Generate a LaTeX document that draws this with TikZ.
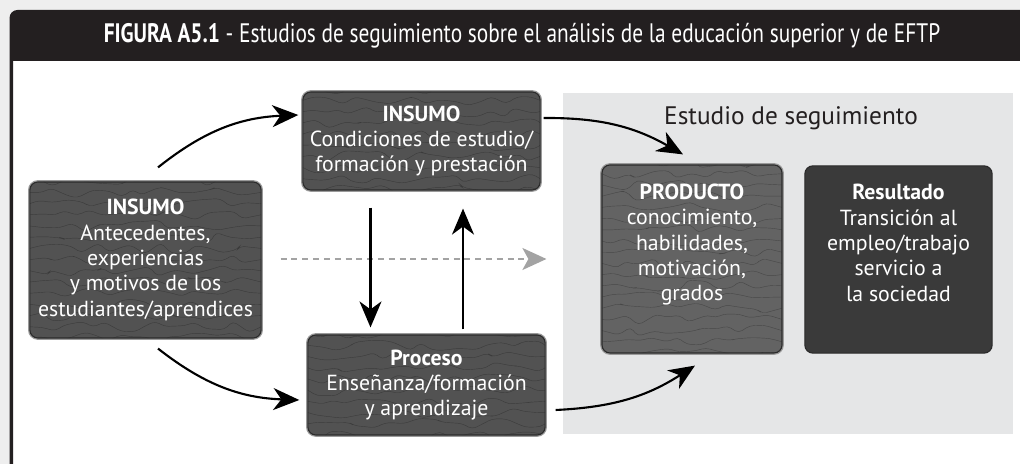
\documentclass[tikz,border=0pt]{standalone}
\usepackage{fontspec}
\setmainfont{PT Sans}
\newfontfamily\titlefont[FakeStretch=0.8]{PT Sans}
\usetikzlibrary{arrows.meta, calc, decorations.pathmorphing}
\definecolor{pagebg}{HTML}{EEEEEE}
\definecolor{headdark}{HTML}{231F20}
\definecolor{panelgray}{HTML}{E5E6E7}
\definecolor{boxgray}{HTML}{525252}
\definecolor{resgray}{HTML}{3A3A3A}
\definecolor{edgegray}{HTML}{2B2B2B}
\definecolor{ringgray}{HTML}{9A9A9A}
\definecolor{dashgray}{HTML}{A3A3A3}

\begin{document}
\begin{tikzpicture}[x=0.025cm, y=0.025cm,
  topoline/.style={draw=black, line width=0.3pt, opacity=0.28, decorate,
                   decoration={random steps, segment length=9pt, amplitude=4pt}, rounded corners=3pt},
  topo/.style={path picture={\foreach \k in {0,...,17}{
      \draw[topoline] ([yshift=\k*0.28cm]path picture bounding box.south west)
        -- ([yshift=\k*0.28cm]path picture bounding box.south east);}}},
  box/.style={draw=edgegray, line width=0.8pt, fill=boxgray, rounded corners=0.2cm,
              preaction={draw=ringgray, line width=2.6pt}, topo, text=white, align=center,
              font=\fontsize{15.5}{18}\selectfont, inner sep=2pt},
  resbox/.style={draw=edgegray, line width=0.8pt, fill=resgray, rounded corners=0.2cm,
                 text=white, align=center, font=\fontsize{15.5}{18}\selectfont, inner sep=2pt},
  arrow/.style={-{Stealth[length=6.5mm, width=5.5mm, inset=2mm]}, line width=1.5pt},
  ghost/.style={-{Stealth[length=6mm, width=5.5mm, inset=1.5mm]}, line width=1.4pt,
                dashgray, dash pattern=on 0.15cm off 0.12cm}
]
\pgfmathsetseed{7}
\useasboundingbox (0,0) rectangle (1020,464);
% background and frame
\fill[pagebg] (0,0) rectangle (1020,464);
\fill[white] (12,0) rectangle (1020,404);
\fill[headdark] (9.5,0) -- (9.5,446) arc[start angle=180, end angle=90, radius=0.2cm]
  -- (1020,454) -- (1020,403) -- (13,403) -- (13,0) -- cycle;
\node[text=white, font=\titlefont\fontsize{19}{22}\selectfont] (title) at (522,428)
  {\textbf{FIGURA A5.1} - Estudios de seguimiento sobre el análisis de la educación superior y de EFTP};

% follow-up panel
\fill[panelgray] (563,30) rectangle (1013,371);
\node[text=headdark, font=\fontsize{18}{21}\selectfont] (study) at (791,346) {Estudio de seguimiento};

% boxes
\node[box, minimum width=5.78cm, minimum height=3.9cm] (stud) at (145.5,204)
  {\textbf{INSUMO}\\Antecedentes,\\experiencias\\y motivos de los\\estudiantes/aprendices};
\node[box, minimum width=5.93cm, minimum height=2.45cm] (cond) at (421.5,323)
  {\textbf{INSUMO}\\Condiciones de estudio/\\formación y prestación};
\node[box, minimum width=5.93cm, minimum height=2.5cm] (proc) at (426.5,79)
  {\textbf{Proceso}\\Enseñanza/formación\\y aprendizaje};
\node[box, fill=boxgray!90!white, minimum width=4.5cm, minimum height=4.7cm] (prod) at (692,205)
  {\textbf{PRODUCTO}\\conocimiento,\\habilidades,\\motivación,\\grados\\[0.2cm]\mbox{}};
\node[resbox, minimum width=4.68cm, minimum height=4.68cm] (res) at (898.5,204.5)
  {\textbf{Resultado}\\Transición al\\empleo/trabajo\\servicio a\\la sociedad\\[0.2cm]\mbox{}};

% connectors
\draw[ghost] ($(stud.east)+(19,1)$) -- ($(prod.west)+(-55,0)$);
\draw[arrow] ($(stud.north)+(12.5,14)$) to[bend left=18] ($(cond.west)+(-4,26)$);
\draw[arrow] ($(cond.east)+(3,23)$) to[bend left=15] ($(prod.north)+(-9,10)$);
\draw[arrow] ($(stud.south)+(12.5,-10)$) to[bend right=18] ($(proc.west)+(-8,-15)$);
\draw[arrow] ($(proc.east)+(10,-25)$) to[bend right=15] ($(prod.south)+(3,-12)$);
\draw[arrow] ($(cond.south)+(-51,-17)$) -- ($(proc.north)+(-56,7)$);
\draw[arrow] ($(proc.north)+(36.5,5)$) -- ($(cond.south)+(41.5,-18)$);
\end{tikzpicture}
\end{document}
